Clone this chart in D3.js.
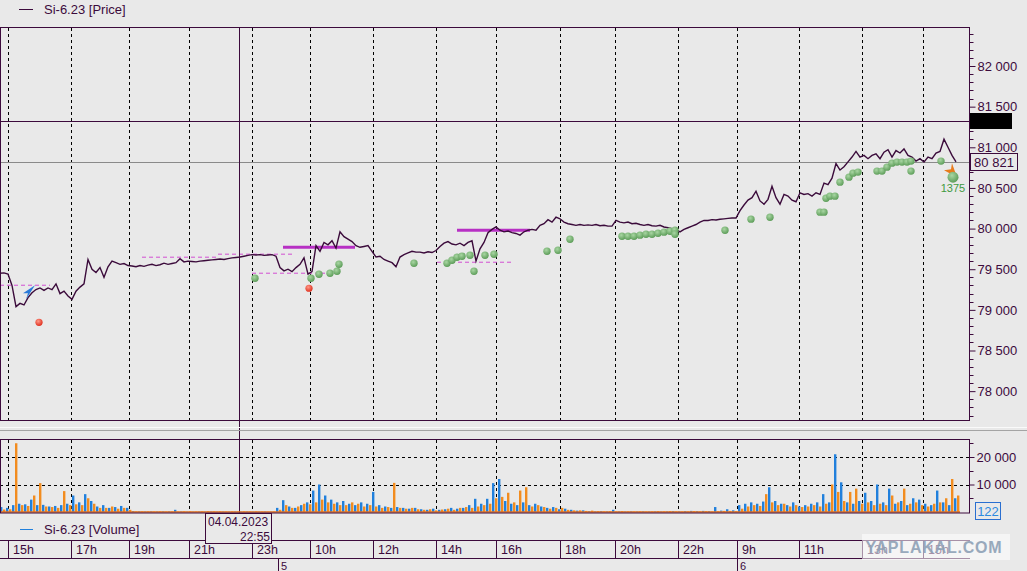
<!DOCTYPE html>
<html>
<head>
<meta charset="utf-8">
<script src="https://cdn.jsdelivr.net/npm/d3@7"></script>
<style>
  body { margin: 0; background: #e9e9e9; overflow: hidden; }
  svg { display: block; font-family: "Liberation Sans", Arial, sans-serif; }
</style>
</head>
<body>
<div id="graphic"></div>
<script>
// price, one value per bar slot (slot 0..239)
var price = [
  79450, 79455, 79440, 79300, 79040, 79080, 79060, 79150, 79210, 79250,
  79270, 79240, 79270, 79250, 79320, 79200, 79230, 79170, 79130, 79230,
  79280, 79320, 79620, 79500, 79460, 79520, 79400, 79530, 79600, 79580,
  79560, 79570, 79545, 79540, 79530, 79545, 79535, 79550, 79560, 79545,
  79555, 79575, 79560, 79570, 79580, 79630, 79590, 79600, 79595, 79590,
  79600, 79605, 79610, 79615, 79620, 79625, 79620, 79630, 79640, 79645,
  79650, 79660, 79670, 79680, 79675, 79680, 79670, 79675, 79680, 79660,
  79520, 79480, 79500, 79470, 79520, 79560, 79640, 79440, 79470, 79790,
  79720, 79830, 79800, 79850, 79760, 79960, 79900, 79870, 79840, 79790,
  79770, 79780, 79790, 79720, 79650, 79660, 79620, 79600, 79580, 79530,
  79650, 79680, 79700, 79720, 79710, 79710, 79700, 79715, 79705, 79730,
  79780, 79820, 79840, 79810, 79800, 79820, 79790, 79830, 79850, 79600,
  79750, 79830, 79950, 79990, 80020, 79980, 79960, 79970, 79950, 79940,
  79920, 79960, 79980, 79990, 79980, 80040, 80060, 80110, 80080, 80140,
  80120, 80080, 80060, 80050, 80040, 80050, 80040, 80045, 80040, 80050,
  80035, 80040, 80030, 80030, 80100, 80080, 80070, 80080, 80060, 80065,
  80050, 80040, 80050, 80035, 80030, 80040, 80020, 80010, 80000, 79990,
  79960, 79990, 80010, 80030, 80050, 80080, 80100, 80100, 80110, 80105,
  80115, 80120, 80125, 80130, 80130, 80220, 80290, 80350, 80380, 80460,
  80340, 80300, 80360, 80520, 80380, 80300, 80420, 80400, 80350, 80330,
  80440, 80420, 80430, 80400, 80440, 80420, 80560, 80540, 80620, 80800,
  80720, 80760, 80820, 80880, 80950, 80880, 80900, 80860, 80900, 80920,
  80860, 80940, 80970, 80880, 80960, 80930, 80980, 80900, 80880, 80830,
  80860, 80820, 80880, 80860, 80930, 80950, 81100, 81000, 80900, 80820
];

// volume, two series, one value per 1.5 slots
var volBuy = [
  1800, 1500, 2500, 3000, 2800, 4500, 2500, 2600, 2000, 2200,
  2500, 3000, 6000, 3500, 6500, 4000, 2000, 2500, 1500, 1800,
  2200, 1500, 300, 200, 150, 200, 150, 200, 200, 800,
  150, 100, 100, 150, 100, 150, 100, 150, 100, 150,
  100, 150, 100, 100, 150, 100, 1500, 4300, 2000, 1500,
  2500, 3500, 7800, 10000, 6000, 4500, 3500, 4000, 3000, 2500,
  3500, 3000, 7300, 2500, 2000, 1500, 1800, 1500, 1200, 1500,
  1000, 800, 1200, 800, 1000, 1500, 1200, 1500, 2500, 4800,
  3000, 4800, 10500, 12000, 4000, 3000, 2500, 3500, 2500, 3000,
  2000, 1500, 1800, 1000, 1200, 800, 500, 600, 300, 200,
  300, 200, 800, 200, 150, 200, 150, 200, 150, 200,
  150, 200, 300, 200, 300, 400, 300, 400, 300, 1800,
  500, 1000, 600, 2500, 3000, 3500, 3000, 3800, 9000, 4000,
  3000, 2500, 3500, 2000, 2500, 3000, 3500, 6500, 3500, 21000,
  10800, 3500, 3000, 4000, 7000, 4000, 10000, 3500, 8500, 3000,
  4000, 2500, 5000, 4500, 3000, 2500, 7800, 3500, 2500, 5000
];
var volSell = [
  900, 1000, 25000, 2500, 2200, 6000, 10500, 2000, 1800, 1500,
  7600, 2500, 2800, 2500, 5000, 3000, 1500, 1500, 2000, 1200,
  1500, 800, 200, 200, 200, 150, 200, 150, 200, 150,
  200, 200, 150, 200, 250, 200, 200, 150, 200, 150,
  200, 150, 200, 150, 100, 150, 800, 2500, 1500, 2000,
  3000, 2800, 3500, 4500, 3500, 3000, 2500, 2500, 3500, 3000,
  2000, 2500, 2000, 1500, 1800, 10600, 1500, 1200, 1500, 1000,
  800, 1000, 600, 900, 1200, 800, 1500, 1800, 1500, 2000,
  2500, 3000, 5000, 5500, 7000, 3500, 7800, 9000, 2000, 2500,
  1800, 1200, 1500, 1500, 800, 600, 600, 400, 500, 300,
  200, 300, 200, 300, 200, 150, 200, 150, 200, 300,
  200, 300, 200, 150, 200, 300, 200, 300, 200, 300,
  400, 400, 300, 1200, 2000, 2500, 2200, 6500, 3500, 2500,
  3000, 2000, 2500, 1800, 2000, 2500, 2000, 3000, 10000, 7300,
  4000, 7300, 8500, 3000, 3500, 2500, 3000, 2500, 6000, 3500,
  8500, 3000, 3500, 2500, 2000, 3000, 3500, 5000, 12000, 6000
];

// signal dots [slot, price]
var greenDots = [
  [63.75, 79389], [77.75, 79389], [79.75, 79439], [82.5, 79451], [84.25, 79475],
  [84.75, 79562], [103.5, 79574], [111.75, 79574], [113, 79611], [114.25, 79648],
  [115.5, 79660], [117.5, 79672], [118.5, 79475], [121.25, 79672], [123.5, 79685],
  [136.75, 79722], [139.5, 79734], [142.5, 79869], [155.5, 79906], [157, 79906],
  [158.5, 79906], [160, 79919], [161.5, 79931], [163, 79931], [164.5, 79943],
  [166, 79956], [167.5, 79968], [168.75, 79980], [168.75, 79931], [181.25, 79980],
  [187.75, 80116], [192.5, 80140], [205, 80202], [206, 80202], [206.5, 80374],
  [207.5, 80399], [208.75, 80399], [210, 80571], [212.25, 80633], [213.25, 80682],
  [214.5, 80695], [219.25, 80707], [220.5, 80707], [221.75, 80756], [223, 80805],
  [224.25, 80818], [225.5, 80818], [226.75, 80818], [227.75, 80830], [227.75, 80707],
  [235.25, 80830]
];
var lastDot = [238.25, 80633];
var lastDotLabel = "1375";
var redDots = [[9.75, 78847], [77.25, 79266]];
var buyArrow = [7.25, 79217];
var sellArrow = [237.75, 80719];

// order levels [slotFrom, slotTo, price]
var dashedLevels = [
  [0, 12.5, 79303], [35.5, 54.25, 79648], [54.5, 73.25, 79685],
  [63, 81.25, 79451], [109.25, 128.25, 79586]
];
var solidLevels = [[70.75, 88.75, 79771], [114.25, 132.5, 79980]];

var cursorSlot = 59.75, cursorPrice = 81323, lastPrice = 80821, lastVolume = 122;

var timeTicks = [
  ["15h", 2], ["17h", 17.75], ["19h", 32.25], ["21h", 47.25], ["23h", 63],
  ["10h", 77.5], ["12h", 93.25], ["14h", 109], ["16h", 124], ["18h", 140],
  ["20h", 153.75], ["22h", 169.5], ["9h", 184.25], ["11h", 199.75],
  ["13h", 215.5], ["15h", 230.75]
];
var dayTicks = [["5", 69.5], ["6", 184.25]];
var priceTicks = [78000, 78500, 79000, 79500, 80000, 80500, 81000, 81500, 82000];
var volTicks = [10000, 20000];

var W = 1027, H = 571, plotR = 969;
var ink = "#3c0a3c";

var svg = d3.select("#graphic").append("svg")
    .attr("width", W)
    .attr("height", H);

svg.append("rect").attr("width", W).attr("height", H).attr("fill", "#e9e9e9");

var x = d3.scaleLinear().domain([0, 240]).range([0, 960]);
var y = d3.scaleLinear().domain([77645, 82480]).range([420, 27]);
var yv = d3.scaleLinear().domain([0, 26550]).range([512, 439]);

var fmt = function (d) { return d3.format(",")(d).replace(/,/g, " "); };

// ---- price panel
var pricePanel = svg.append("g");

pricePanel.selectAll(".vgrid").data(timeTicks).enter().append("line")
    .attr("x1", d => Math.round(x(d[1])) + 0.5).attr("x2", d => Math.round(x(d[1])) + 0.5)
    .attr("y1", 28).attr("y2", 420)
    .attr("stroke", "#000").attr("stroke-dasharray", "3,3");

pricePanel.append("line")
    .attr("x1", 0).attr("x2", plotR)
    .attr("y1", Math.round(y(lastPrice)) + 0.5).attr("y2", Math.round(y(lastPrice)) + 0.5)
    .attr("stroke", "#8a8a8a");

pricePanel.selectAll(".dlev").data(dashedLevels).enter().append("line")
    .attr("x1", d => x(d[0])).attr("x2", d => x(d[1]))
    .attr("y1", d => y(d[2])).attr("y2", d => y(d[2]))
    .attr("stroke", "#d24fd2").attr("stroke-dasharray", "4,3");

pricePanel.selectAll(".slev").data(solidLevels).enter().append("line")
    .attr("x1", d => x(d[0])).attr("x2", d => x(d[1]))
    .attr("y1", d => y(d[2])).attr("y2", d => y(d[2]))
    .attr("stroke", "#b730c4").attr("stroke-width", 3);

pricePanel.append("path")
    .datum(price)
    .attr("d", d3.line().x((d, i) => x(i)).y(d => y(d)))
    .attr("fill", "none").attr("stroke", "#3b0b3b").attr("stroke-width", 1.4);

var defs = svg.append("defs");
var gg = defs.append("radialGradient").attr("id", "gdot").attr("cx", "40%").attr("cy", "35%").attr("r", "65%");
gg.append("stop").attr("offset", "0%").attr("stop-color", "#a9d6a3");
gg.append("stop").attr("offset", "100%").attr("stop-color", "#5e9e5a");
var rg = defs.append("radialGradient").attr("id", "rdot").attr("cx", "40%").attr("cy", "35%").attr("r", "65%");
rg.append("stop").attr("offset", "0%").attr("stop-color", "#ff9a8a");
rg.append("stop").attr("offset", "100%").attr("stop-color", "#e0301e");

pricePanel.selectAll(".gd").data(greenDots).enter().append("circle")
    .attr("cx", d => x(d[0])).attr("cy", d => y(d[1])).attr("r", 3.7)
    .attr("fill", "url(#gdot)");
pricePanel.selectAll(".rd").data(redDots).enter().append("circle")
    .attr("cx", d => x(d[0])).attr("cy", d => y(d[1])).attr("r", 3.6)
    .attr("fill", "url(#rdot)");

// arrows
var bx = x(buyArrow[0]), by = y(buyArrow[1]);
pricePanel.append("path")
    .attr("d", "M" + (bx + 6) + "," + (by - 7) + " L" + (bx - 6) + "," + (by + 1) + " L" + (bx - 1) + "," + (by + 1) +
        " L" + (bx - 3) + "," + (by + 7) + " Z")
    .attr("fill", "#2a7ad8");
var sx = x(sellArrow[0]), sy = y(sellArrow[1]);
pricePanel.append("path")
    .attr("d", "M" + (sx + 6) + "," + (sy + 7) + " L" + (sx - 7) + "," + (sy) + " L" + (sx) + "," + (sy - 1) +
        " L" + (sx + 1) + "," + (sy - 7) + " Z")
    .attr("fill", "#e87b1c");

pricePanel.append("circle")
    .attr("cx", x(lastDot[0])).attr("cy", y(lastDot[1])).attr("r", 5.5)
    .attr("fill", "url(#gdot)");
pricePanel.append("text")
    .attr("x", x(lastDot[0])).attr("y", y(lastDot[1]) + 15)
    .attr("text-anchor", "middle").attr("font-size", 11).attr("fill", "#3f9a3f")
    .text(lastDotLabel);

// cursor lines
pricePanel.append("line")
    .attr("x1", 0).attr("x2", plotR)
    .attr("y1", Math.round(y(cursorPrice)) + 0.5).attr("y2", Math.round(y(cursorPrice)) + 0.5)
    .attr("stroke", ink);
svg.append("line")
    .attr("x1", Math.round(x(cursorSlot)) + 0.5).attr("x2", Math.round(x(cursorSlot)) + 0.5)
    .attr("y1", 27).attr("y2", 513)
    .attr("stroke", ink);

pricePanel.append("rect")
    .attr("x", 0.5).attr("y", 27.5).attr("width", plotR).attr("height", 393)
    .attr("fill", "none").attr("stroke", ink);

// right price axis
var yAxis = d3.axisRight(y).tickValues(priceTicks).tickFormat(fmt).tickSize(6).tickPadding(2).tickSizeOuter(0);
var ya = svg.append("g").attr("transform", "translate(" + (plotR + 0.5) + ",0)").call(yAxis);
ya.select(".domain").remove();
ya.selectAll("line").attr("stroke", ink);
ya.selectAll("text").attr("fill", ink).attr("font-size", 13).attr("font-family", "Liberation Sans, Arial");
ya.append("g").selectAll("line").data(d3.range(77700, 82480, 100).filter(v => v % 500 !== 0)).enter().append("line")
    .attr("x1", 0).attr("x2", 4).attr("y1", d => Math.round(y(d)) + 0.5).attr("y2", d => Math.round(y(d)) + 0.5)
    .attr("stroke", ink);

svg.append("rect").attr("x", 970).attr("y", 113).attr("width", 42).attr("height", 16).attr("fill", "#000");
svg.append("rect").attr("x", 970.5).attr("y", 153.5).attr("width", 47).attr("height", 17)
    .attr("fill", "#e9e9e9").attr("stroke", ink);
svg.append("text").attr("x", 994).attr("y", 167).attr("text-anchor", "middle")
    .attr("font-size", 13).attr("fill", ink).text(fmt(lastPrice));

// legend
svg.append("line").attr("x1", 19).attr("x2", 33).attr("y1", 9.5).attr("y2", 9.5).attr("stroke", ink);
svg.append("text").attr("x", 44).attr("y", 14).attr("font-size", 13).attr("fill", ink).text("Si-6.23 [Price]");

// separator
svg.append("line").attr("x1", 0).attr("x2", W).attr("y1", 427.5).attr("y2", 427.5).attr("stroke", "#fafafa");
svg.append("line").attr("x1", 0).attr("x2", W).attr("y1", 430.5).attr("y2", 430.5).attr("stroke", "#a4a4a4");

// ---- volume panel
var volPanel = svg.append("g");
volPanel.selectAll(".vg").data(timeTicks).enter().append("line")
    .attr("x1", d => Math.round(x(d[1])) + 0.5).attr("x2", d => Math.round(x(d[1])) + 0.5)
    .attr("y1", 440).attr("y2", 512)
    .attr("stroke", "#000").attr("stroke-dasharray", "3,3");
volPanel.selectAll(".hg").data(volTicks).enter().append("line")
    .attr("x1", 0).attr("x2", plotR)
    .attr("y1", d => Math.round(yv(d)) + 0.5).attr("y2", d => Math.round(yv(d)) + 0.5)
    .attr("stroke", "#000").attr("stroke-dasharray", "3,3");

volPanel.selectAll(".vs").data(volSell).enter().append("rect")
    .attr("x", (d, i) => x(i * 1.5 + 0.75)).attr("width", 2.4)
    .attr("y", d => yv(d)).attr("height", d => yv(0) - yv(d))
    .attr("fill", "#f28c1f");
volPanel.selectAll(".vb").data(volBuy).enter().append("rect")
    .attr("x", (d, i) => x(i * 1.5)).attr("width", 2.4)
    .attr("y", d => yv(d)).attr("height", d => yv(0) - yv(d))
    .attr("fill", "#2180dc");
volPanel.append("line").attr("x1", 0).attr("x2", 960).attr("y1", 512).attr("y2", 512)
    .attr("stroke", "#e07020").attr("stroke-width", 1.5);

volPanel.append("rect")
    .attr("x", 0.5).attr("y", 439.5).attr("width", plotR).attr("height", 73.5)
    .attr("fill", "none").attr("stroke", ink);

var vAxis = d3.axisRight(yv).tickValues(volTicks).tickFormat(fmt).tickSize(5).tickPadding(2);
var va = svg.append("g").attr("transform", "translate(" + (plotR + 0.5) + ",0)").call(vAxis);
va.select(".domain").remove();
va.selectAll("line").attr("stroke", ink);
va.selectAll("text").attr("fill", ink).attr("font-size", 13).attr("font-family", "Liberation Sans, Arial");
va.append("g").selectAll("line").data([5000, 15000, 25000]).enter().append("line")
    .attr("x1", 0).attr("x2", 4).attr("y1", d => Math.round(yv(d)) + 0.5).attr("y2", d => Math.round(yv(d)) + 0.5)
    .attr("stroke", ink);

svg.append("rect").attr("x", 975.5).attr("y", 502.5).attr("width", 25).attr("height", 17)
    .attr("fill", "#e9e9e9").attr("stroke", "#2a6fd0");
svg.append("text").attr("x", 988).attr("y", 516).attr("text-anchor", "middle")
    .attr("font-size", 13).attr("fill", "#2d8ae0").text(lastVolume);

svg.append("line").attr("x1", 20).attr("x2", 33).attr("y1", 529.5).attr("y2", 529.5).attr("stroke", "#2180dc");
svg.append("text").attr("x", 44).attr("y", 534).attr("font-size", 13).attr("fill", ink).text("Si-6.23 [Volume]");

// ---- time axis
var tAxis = svg.append("g");
tAxis.append("line").attr("x1", 0).attr("x2", plotR + 1).attr("y1", 540.5).attr("y2", 540.5).attr("stroke", ink);
tAxis.append("line").attr("x1", 0).attr("x2", plotR + 1).attr("y1", 558.5).attr("y2", 558.5).attr("stroke", ink);
tAxis.selectAll(".tl").data(timeTicks).enter().append("line")
    .attr("x1", d => Math.round(x(d[1])) + 0.5).attr("x2", d => Math.round(x(d[1])) + 0.5)
    .attr("y1", 540).attr("y2", 558).attr("stroke", ink);
tAxis.selectAll(".tt").data(timeTicks).enter().append("text")
    .attr("x", d => x(d[1]) + 5).attr("y", 554)
    .attr("font-size", 12.5).attr("fill", ink).text(d => d[0]);
tAxis.selectAll(".dl").data(dayTicks).enter().append("line")
    .attr("x1", d => Math.round(x(d[1])) + 0.5).attr("x2", d => Math.round(x(d[1])) + 0.5)
    .attr("y1", 558).attr("y2", 571).attr("stroke", ink);
tAxis.selectAll(".dt").data(dayTicks).enter().append("text")
    .attr("x", d => x(d[1]) + 3).attr("y", 570)
    .attr("font-size", 11).attr("fill", ink).text(d => d[0]);

// cursor date box
var cx = Math.round(x(cursorSlot));
svg.append("rect").attr("x", cx - 33.5).attr("y", 513.5).attr("width", 66).attr("height", 30)
    .attr("fill", "#e9e9e9").attr("stroke", ink);
svg.append("text").attr("x", cx - 31).attr("y", 526).attr("font-size", 12).attr("fill", ink).text("04.04.2023");
svg.append("text").attr("x", cx + 31).attr("y", 541).attr("text-anchor", "end").attr("font-size", 12).attr("fill", ink).text("22:55");

// watermark
svg.append("rect").attr("x", 862).attr("y", 534).attr("width", 148).attr("height", 26)
    .attr("fill", "#ffffff").attr("opacity", 0.55);
svg.append("text").attr("x", 934).attr("y", 553).attr("text-anchor", "middle")
    .attr("font-size", 16).attr("font-weight", "bold").attr("letter-spacing", 0.8)
    .attr("fill", "#8ea1b6").attr("opacity", 0.9).text("YAPLAKAL.COM");
</script>
</body>
</html>
